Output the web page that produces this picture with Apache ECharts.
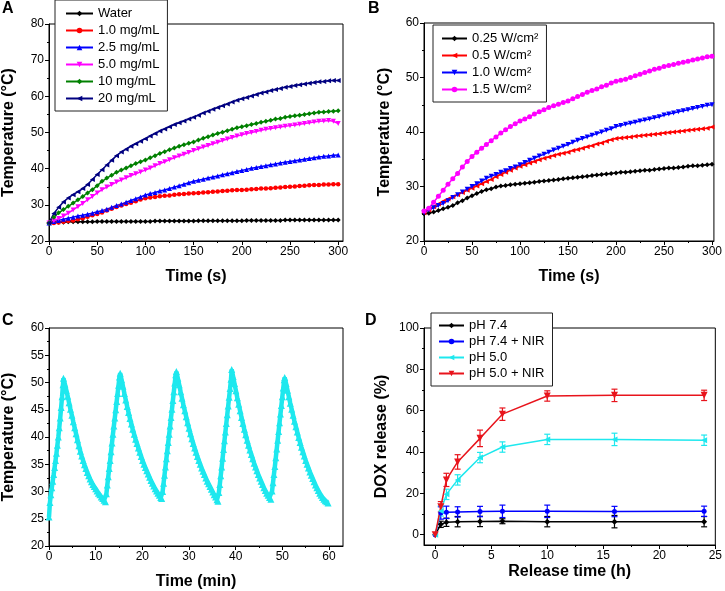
<!DOCTYPE html>
<html>
<head>
<meta charset="utf-8">
<script src="https://cdn.jsdelivr.net/npm/echarts@6/dist/echarts.min.js"></script>
<style>
  html, body { margin: 0; padding: 0; background: #fff; }
  #chart { width: 725px; height: 591px; }
</style>
</head>
<body>
<div id="chart"></div>
<script>
// 数据：A/B 面板，每 5 s 一个点
const timeSec = [0,5,10,15,20,25,30,35,40,45,50,55,60,65,70,75,80,85,90,95,
  100,105,110,115,120,125,130,135,140,145,150,155,160,165,170,175,180,185,190,195,
  200,205,210,215,220,225,230,235,240,245,250,255,260,265,270,275,280,285,290,295,300];

const water = [25.0,25.1,25.2,25.2,25.3,25.3,25.3,25.3,25.3,25.3,
  25.4,25.4,25.4,25.4,25.4,25.4,25.4,25.4,25.4,25.4,
  25.4,25.4,25.5,25.5,25.5,25.5,25.5,25.5,25.5,25.5,
  25.5,25.6,25.6,25.6,25.6,25.6,25.6,25.6,25.6,25.6,
  25.6,25.7,25.7,25.7,25.7,25.7,25.7,25.7,25.7,25.8,
  25.8,25.8,25.8,25.8,25.8,25.8,25.8,25.8,25.8,25.8,25.8];
const conc10 = [25.0,25.0,25.1,25.3,25.5,25.7,26.0,26.3,26.7,27.1,
  27.5,27.9,28.4,28.9,29.4,29.8,30.2,30.6,31.0,31.5,
  31.8,32.0,32.2,32.4,32.5,32.6,32.8,32.9,33.0,33.1,
  33.2,33.3,33.4,33.5,33.6,33.7,33.8,33.9,34.0,34.1,
  34.1,34.2,34.3,34.4,34.5,34.5,34.6,34.7,34.8,34.9,
  35.0,35.1,35.2,35.3,35.4,35.5,35.5,35.6,35.6,35.7,35.7];
const conc25 = [25.0,25.4,25.7,26.0,26.3,26.6,26.9,27.1,27.4,27.7,
  28.1,28.4,28.8,29.3,29.8,30.2,30.7,31.2,31.7,32.2,
  32.7,33.1,33.4,33.8,34.1,34.5,34.9,35.3,35.7,36.1,
  36.5,36.8,37.1,37.4,37.7,38.0,38.3,38.6,38.9,39.2,
  39.5,39.8,40.1,40.3,40.6,40.8,41.1,41.3,41.6,41.8,
  42.0,42.2,42.4,42.6,42.8,43.0,43.2,43.4,43.5,43.7,43.8];
const conc50 = [25.0,25.6,26.2,26.9,27.7,28.6,29.5,30.4,31.4,32.3,
  33.3,34.2,34.9,35.6,36.3,36.9,37.5,38.1,38.6,39.1,
  39.6,40.2,40.8,41.4,41.9,42.5,43.0,43.5,44.0,44.5,
  45.0,45.5,46.0,46.4,46.9,47.3,47.8,48.2,48.6,49.0,
  49.4,49.7,50.0,50.3,50.6,50.9,51.1,51.3,51.5,51.7,
  51.9,52.1,52.3,52.5,52.7,52.9,53.1,53.2,53.3,53.1,52.5];
const conc100 = [25.0,26.6,27.8,28.7,29.6,30.5,31.4,32.3,33.3,34.2,
  35.3,36.5,37.4,38.2,39.0,39.6,40.2,40.8,41.4,41.9,
  42.4,43.0,43.6,44.2,44.7,45.2,45.7,46.2,46.6,47.0,
  47.4,47.9,48.4,48.8,49.3,49.7,50.1,50.5,50.9,51.3,
  51.6,51.9,52.2,52.5,52.8,53.1,53.4,53.7,53.9,54.2,
  54.4,54.6,54.8,55.0,55.2,55.4,55.6,55.7,55.8,55.9,56.0];
const conc200 = [25.0,27.6,29.3,30.8,31.9,32.8,33.6,34.5,35.6,37.0,
  38.4,39.7,41.0,42.3,43.6,44.6,45.4,46.2,46.9,47.6,
  48.3,49.0,49.7,50.4,51.0,51.6,52.2,52.7,53.2,53.7,
  54.2,54.8,55.4,55.9,56.4,56.9,57.4,57.9,58.4,58.9,
  59.3,59.7,60.1,60.5,60.9,61.2,61.6,61.9,62.2,62.5,
  62.7,63.0,63.2,63.4,63.6,63.8,64.0,64.1,64.3,64.4,64.4];

const power025 = [25.0,25.1,25.3,25.6,25.9,26.2,26.5,27.0,27.4,27.9,
  28.3,28.7,29.1,29.4,29.6,29.9,30.1,30.2,30.3,30.4,
  30.5,30.6,30.7,30.8,30.9,31.0,31.1,31.2,31.3,31.4,
  31.5,31.6,31.7,31.8,31.9,32.0,32.1,32.2,32.3,32.4,
  32.5,32.6,32.6,32.7,32.8,32.9,33.0,33.0,33.1,33.2,
  33.3,33.4,33.4,33.5,33.6,33.7,33.8,33.8,33.9,34.0,34.1];
const power05 = [25.2,25.7,26.3,26.8,27.3,27.7,28.1,28.5,28.9,29.3,
  29.7,30.1,30.5,30.9,31.3,31.8,32.2,32.6,33.0,33.4,
  33.7,34.0,34.3,34.6,34.9,35.2,35.4,35.7,35.9,36.1,
  36.3,36.6,36.8,37.0,37.3,37.5,37.8,38.0,38.3,38.6,
  38.8,38.9,39.0,39.1,39.2,39.3,39.4,39.5,39.6,39.7,
  39.8,39.9,40.0,40.1,40.2,40.3,40.4,40.5,40.6,40.7,40.9];
const power10 = [25.2,25.7,26.1,26.5,26.9,27.4,28.0,28.5,29.0,29.5,
  30.0,30.5,31.0,31.5,31.9,32.2,32.6,32.9,33.3,33.6,
  34.0,34.4,34.8,35.2,35.6,35.9,36.3,36.7,37.0,37.4,
  37.7,38.1,38.5,38.8,39.1,39.4,39.7,40.0,40.3,40.6,
  41.0,41.2,41.4,41.6,41.8,42.0,42.2,42.4,42.6,42.8,
  43.1,43.3,43.5,43.7,43.9,44.1,44.3,44.5,44.7,44.9,45.0];
const power15 = [25.5,26.0,27.1,28.2,29.3,30.4,31.4,32.4,33.6,34.6,
  35.5,36.3,37.0,37.7,38.4,39.1,39.8,40.4,41.0,41.5,
  42.0,42.4,42.8,43.3,43.7,44.1,44.5,44.8,45.1,45.4,
  45.7,46.1,46.5,46.9,47.3,47.6,47.9,48.3,48.6,49.0,
  49.3,49.5,49.7,50.0,50.3,50.6,50.9,51.2,51.5,51.7,
  52.0,52.2,52.4,52.6,52.8,53.0,53.2,53.4,53.6,53.8,53.9];

// C 面板：五次开关循环 [时间 min, 温度]
const cyclingPoints = [
  [0.0,25.3],[0.2,28.0],[0.4,29.4],[0.6,30.7],[0.8,31.9],[1.0,33.1],[1.2,34.4],[1.4,35.7],[1.6,37.0],
  [1.8,38.5],[2.0,40.0],[2.2,41.7],[2.4,43.5],[2.6,45.4],[2.8,47.4],[3.0,49.6],[3.1,50.8],
  [3.4,49.7],[3.7,48.6],[4.0,47.5],[4.3,46.3],[4.6,45.1],[4.9,44.0],[5.2,42.8],[5.5,41.7],[5.8,40.6],
  [6.1,39.5],[6.4,38.4],[6.7,37.4],[7.0,36.5],[7.3,35.7],[7.6,34.9],[7.9,34.2],[8.2,33.5],[8.5,32.9],
  [8.8,32.3],[9.1,31.8],[9.4,31.3],[9.7,30.9],[10.0,30.5],[10.3,30.1],[10.6,29.7],[10.9,29.4],
  [11.2,29.0],[11.5,28.7],[11.8,28.4],[12.1,28.1],
  [12.3,29.6],[12.5,31.2],[12.7,32.7],[12.9,34.2],[13.1,35.7],[13.3,37.3],[13.5,38.9],[13.7,40.5],
  [13.9,42.0],[14.1,43.5],[14.3,45.0],[14.5,46.5],[14.7,48.0],[14.9,49.5],[15.1,51.0],[15.25,51.7],
  [15.55,50.5],[15.85,49.3],[16.15,48.0],[16.45,46.8],[16.75,45.6],[17.05,44.5],[17.35,43.4],
  [17.65,42.4],[17.95,41.4],[18.25,40.5],[18.55,39.6],[18.85,38.8],[19.15,38.0],[19.45,37.2],
  [19.75,36.4],[20.05,35.7],[20.35,35.0],[20.65,34.4],[20.95,33.8],[21.25,33.2],[21.55,32.6],
  [21.85,32.0],[22.15,31.5],[22.45,31.0],[22.75,30.5],[23.05,30.1],[23.35,29.7],[23.65,29.3],
  [23.95,28.9],[24.15,28.7],
  [24.35,30.0],[24.55,31.5],[24.75,33.0],[24.95,34.5],[25.15,36.0],[25.35,37.5],[25.55,39.0],
  [25.75,40.5],[25.95,42.0],[26.15,43.6],[26.35,45.1],[26.55,46.7],[26.75,48.3],[26.95,49.9],
  [27.15,51.4],[27.3,52.0],
  [27.6,50.8],[27.9,49.6],[28.2,48.3],[28.5,47.1],[28.8,45.9],[29.1,44.8],[29.4,43.7],[29.7,42.6],
  [30.0,41.6],[30.3,40.6],[30.6,39.7],[30.9,38.8],[31.2,38.0],[31.5,37.2],[31.8,36.4],[32.1,35.7],
  [32.4,35.0],[32.7,34.3],[33.0,33.7],[33.3,33.1],[33.6,32.5],[33.9,31.9],[34.2,31.4],[34.5,30.9],
  [34.8,30.4],[35.1,29.9],[35.4,29.4],[35.7,29.0],[36.0,28.5],[36.2,28.2],
  [36.4,29.8],[36.6,31.3],[36.8,32.9],[37.0,34.5],[37.2,36.1],[37.4,37.7],[37.6,39.3],[37.8,40.9],
  [38.0,42.5],[38.2,44.1],[38.4,45.7],[38.6,47.3],[38.8,48.9],[39.0,50.6],[39.15,52.4],
  [39.45,51.1],[39.75,49.8],[40.05,48.5],[40.35,47.2],[40.65,46.0],[40.95,44.8],[41.25,43.6],
  [41.55,42.5],[41.85,41.4],[42.15,40.4],[42.45,39.4],[42.75,38.5],[43.05,37.6],[43.35,36.8],
  [43.65,36.0],[43.95,35.2],[44.25,34.5],[44.55,33.8],[44.85,33.1],[45.15,32.5],[45.45,31.9],
  [45.75,31.3],[46.05,30.7],[46.35,30.2],[46.65,29.7],[46.95,29.3],[47.25,28.9],[47.55,28.6],
  [47.8,30.1],[48.0,31.6],[48.2,33.1],[48.4,34.6],[48.6,36.2],[48.8,37.8],[49.0,39.4],[49.2,41.0],
  [49.4,42.6],[49.6,44.2],[49.8,45.8],[50.0,47.4],[50.2,49.0],[50.4,50.5],[50.5,50.9],
  [50.8,49.8],[51.1,48.6],[51.4,47.4],[51.7,46.2],[52.0,45.1],[52.3,44.0],[52.6,42.9],[52.9,41.9],
  [53.2,40.9],[53.5,39.9],[53.8,39.0],[54.1,38.1],[54.4,37.3],[54.7,36.5],[55.0,35.7],[55.3,35.0],
  [55.6,34.3],[55.9,33.6],[56.2,33.0],[56.5,32.4],[56.8,31.8],[57.1,31.2],[57.4,30.7],[57.7,30.2],
  [58.0,29.7],[58.3,29.3],[58.6,28.9],[58.9,28.6],[59.2,28.3],[59.5,28.1],[59.8,27.9]
];

// D 面板：DOX 释放
const releaseTime = [0, 0.5, 1, 2, 4, 6, 10, 16, 24];
const ph74 = [0, 5.0, 6.0, 6.3, 6.4, 6.5, 6.3, 6.3, 6.3];
const ph74Err = [0, 1.5, 2.0, 2.5, 2.5, 1.2, 2.5, 3.0, 2.5];
const ph74Nir = [0, 10.5, 10.8, 11.0, 11.2, 11.3, 11.3, 11.2, 11.3];
const ph74NirErr = [0, 3.0, 3.0, 2.5, 2.5, 3.0, 3.0, 2.5, 2.5];
const ph50 = [0, 11.5, 19.5, 26.5, 37.3, 42.4, 46.1, 46.1, 45.7];
const ph50Err = [0, 2.5, 2.5, 2.5, 2.5, 2.5, 2.5, 3.0, 2.5];
const ph50Nir = [0, 13.5, 26.5, 35.2, 46.6, 58.3, 67.1, 67.4, 67.4];
const ph50NirErr = [0, 2.5, 3.2, 3.5, 4.0, 3.0, 2.5, 3.0, 2.5];

const namesA = ['Water', '1.0 mg/mL', '2.5 mg/mL', '5.0 mg/mL', '10 mg/mL', '20 mg/mL'];
const namesB = ['0.25 W/cm²', '0.5 W/cm²', '1.0 W/cm²', '1.5 W/cm²'];
const namesD = ['pH 7.4', 'pH 7.4 + NIR', 'pH 5.0', 'pH 5.0 + NIR'];

const FONT = 'Arial, "Liberation Sans", sans-serif';
const CYAN = '#1ee8ee';

const chart = echarts.init(document.getElementById('chart'));

function pairs(xs, ys) {
    return xs.map((x, i) => [x, ys[i]]);
}

function lineSeries(name, data, color, symbol, rotate, size, idx, width) {
    return {
        type: 'line', name: name, data: data,
        xAxisIndex: idx, yAxisIndex: idx,
        symbol: symbol, symbolRotate: rotate, symbolSize: size,
        showAllSymbol: true,
        lineStyle: { color: color, width: width || 1.5 },
        itemStyle: { color: color, borderWidth: 0 },
        animation: false
    };
}

// 误差棒（自定义系列，走坐标轴的换算）
function errorSeries(name, xs, ys, errs, color) {
    return {
        type: 'custom', name: name, xAxisIndex: 3, yAxisIndex: 3, z: 3,
        data: xs.map((x, i) => [x, ys[i], errs[i]]),
        renderItem: function (params, api) {
            const x = api.value(0), y = api.value(1), e = api.value(2);
            if (!e) return null;
            const top = api.coord([x, y + e]);
            const bot = api.coord([x, y - e]);
            const w = 3;
            const style = { stroke: color, lineWidth: 1.2, fill: null };
            return {
                type: 'group', children: [
                    { type: 'line', shape: { x1: top[0], y1: top[1], x2: bot[0], y2: bot[1] }, style: style },
                    { type: 'line', shape: { x1: top[0] - w, y1: top[1], x2: top[0] + w, y2: top[1] }, style: style },
                    { type: 'line', shape: { x1: bot[0] - w, y1: bot[1], x2: bot[0] + w, y2: bot[1] }, style: style }
                ]
            };
        },
        animation: false
    };
}

function makeAxis(idx, min, max, interval, labels, name, gap, isY) {
    const ax = {
        type: 'value', gridIndex: idx, min: min, max: max,
        name: name, nameLocation: 'middle', nameGap: gap,
        nameTextStyle: { fontFamily: FONT, fontSize: 16, fontWeight: 'bold', color: '#000' },
        axisLine: { show: true, onZero: false, lineStyle: { color: '#000', width: 1 } },
        axisTick: { show: true, inside: false, length: 4, customValues: labels, lineStyle: { color: '#000' } },
        minorTick: { show: true, splitNumber: 2, length: 2, lineStyle: { color: '#000' } },
        axisLabel: { customValues: labels, fontFamily: FONT, fontSize: 12, color: '#000', margin: 5 },
        splitLine: { show: false }
    };
    if (interval) ax.interval = interval;
    if (isY) ax.nameRotate = 90;
    return ax;
}

function legendOf(names, left, top, itemWidth, itemGap, padding) {
    return {
        data: names, orient: 'vertical', left: left, top: top,
        itemWidth: itemWidth, itemHeight: 7, itemGap: itemGap, padding: padding,
        borderColor: '#222', borderWidth: 1, backgroundColor: '#fff',
        selectedMode: false, z: 10,
        textStyle: { fontFamily: FONT, fontSize: 13, color: '#000' }
    };
}

const gridStyle = { show: true, borderColor: '#000', borderWidth: 1, containLabel: false };

chart.setOption({
    backgroundColor: '#fff',
    animation: false,
    textStyle: { fontFamily: FONT },
    grid: [
        Object.assign({ left: 49, top: 24, width: 294, height: 217 }, gridStyle),
        Object.assign({ left: 424, top: 23, width: 292, height: 218 }, gridStyle),
        Object.assign({ left: 49, top: 328, width: 294, height: 218 }, gridStyle),
        Object.assign({ left: 424, top: 328, width: 295, height: 217 }, gridStyle)
    ],
    xAxis: [
        makeAxis(0, 0, 305, 50, [0, 50, 100, 150, 200, 250, 300], 'Time (s)', 28, false),
        makeAxis(1, 0, 302, 50, [0, 50, 100, 150, 200, 250, 300], 'Time (s)', 28, false),
        makeAxis(2, 0, 63, 10, [0, 10, 20, 30, 40, 50, 60], 'Time (min)', 28, false),
        makeAxis(3, -1, 25, null, [0, 5, 10, 15, 20, 25], 'Release time (h)', 19, false)
    ],
    yAxis: [
        makeAxis(0, 20, 80, 10, [20, 30, 40, 50, 60, 70, 80], 'Temperature (°C)', 32, true),
        makeAxis(1, 20, 60, 10, [20, 30, 40, 50, 60], 'Temperature (°C)', 31, true),
        makeAxis(2, 20, 60, 5, [20, 25, 30, 35, 40, 45, 50, 55, 60], 'Temperature (°C)', 32, true),
        makeAxis(3, -5, 100, null, [0, 20, 40, 60, 80, 100], 'DOX release (%)', 34, true)
    ],
    legend: [
        legendOf(namesA, 55, 0, 27, 4, [7, 8, 6, 10]),
        legendOf(namesB, 433, 25, 25, 4, [7, 8, 6, 8]),
        legendOf(namesD, 431, 313, 25, 3, [6, 8, 6, 7])
    ],
    graphic: [
        { type: 'text', left: 2, top: 1, style: { text: 'A', font: 'bold 16px ' + FONT, fill: '#000' } },
        { type: 'text', left: 368, top: 1, style: { text: 'B', font: 'bold 16px ' + FONT, fill: '#000' } },
        { type: 'text', left: 2, top: 313, style: { text: 'C', font: 'bold 16px ' + FONT, fill: '#000' } },
        { type: 'text', left: 365, top: 313, style: { text: 'D', font: 'bold 16px ' + FONT, fill: '#000' } }
    ],
    series: [
        lineSeries('Water', pairs(timeSec, water), '#000000', 'diamond', 0, 5, 0),
        lineSeries('1.0 mg/mL', pairs(timeSec, conc10), '#ff0000', 'circle', 0, 4.5, 0),
        lineSeries('2.5 mg/mL', pairs(timeSec, conc25), '#0000ff', 'triangle', 0, 5, 0),
        lineSeries('5.0 mg/mL', pairs(timeSec, conc50), '#ff00ff', 'triangle', 180, 5, 0),
        lineSeries('10 mg/mL', pairs(timeSec, conc100), '#008000', 'diamond', 0, 5, 0),
        lineSeries('20 mg/mL', pairs(timeSec, conc200), '#000080', 'triangle', 90, 5, 0),

        lineSeries('0.25 W/cm²', pairs(timeSec, power025), '#000000', 'diamond', 0, 5, 1),
        lineSeries('0.5 W/cm²', pairs(timeSec, power05), '#ff0000', 'triangle', 90, 5, 1),
        lineSeries('1.0 W/cm²', pairs(timeSec, power10), '#0000ff', 'triangle', 180, 5, 1),
        lineSeries('1.5 W/cm²', pairs(timeSec, power15), '#ff00ff', 'circle', 0, 5, 1),

        lineSeries('cycling', cyclingPoints, CYAN, 'triangle', 0, 7, 2, 4.5),

        errorSeries('pH 7.4 err', releaseTime, ph74, ph74Err, '#000000'),
        errorSeries('pH 7.4 + NIR err', releaseTime, ph74Nir, ph74NirErr, '#0000ff'),
        errorSeries('pH 5.0 err', releaseTime, ph50, ph50Err, CYAN),
        errorSeries('pH 5.0 + NIR err', releaseTime, ph50Nir, ph50NirErr, '#e8141c'),
        lineSeries('pH 7.4', pairs(releaseTime, ph74), '#000000', 'diamond', 0, 6, 3),
        lineSeries('pH 7.4 + NIR', pairs(releaseTime, ph74Nir), '#0000ff', 'circle', 0, 5, 3),
        lineSeries('pH 5.0', pairs(releaseTime, ph50), CYAN, 'triangle', 90, 6, 3),
        lineSeries('pH 5.0 + NIR', pairs(releaseTime, ph50Nir), '#e8141c', 'triangle', 180, 7, 3)
    ]
});
</script>
</body>
</html>
